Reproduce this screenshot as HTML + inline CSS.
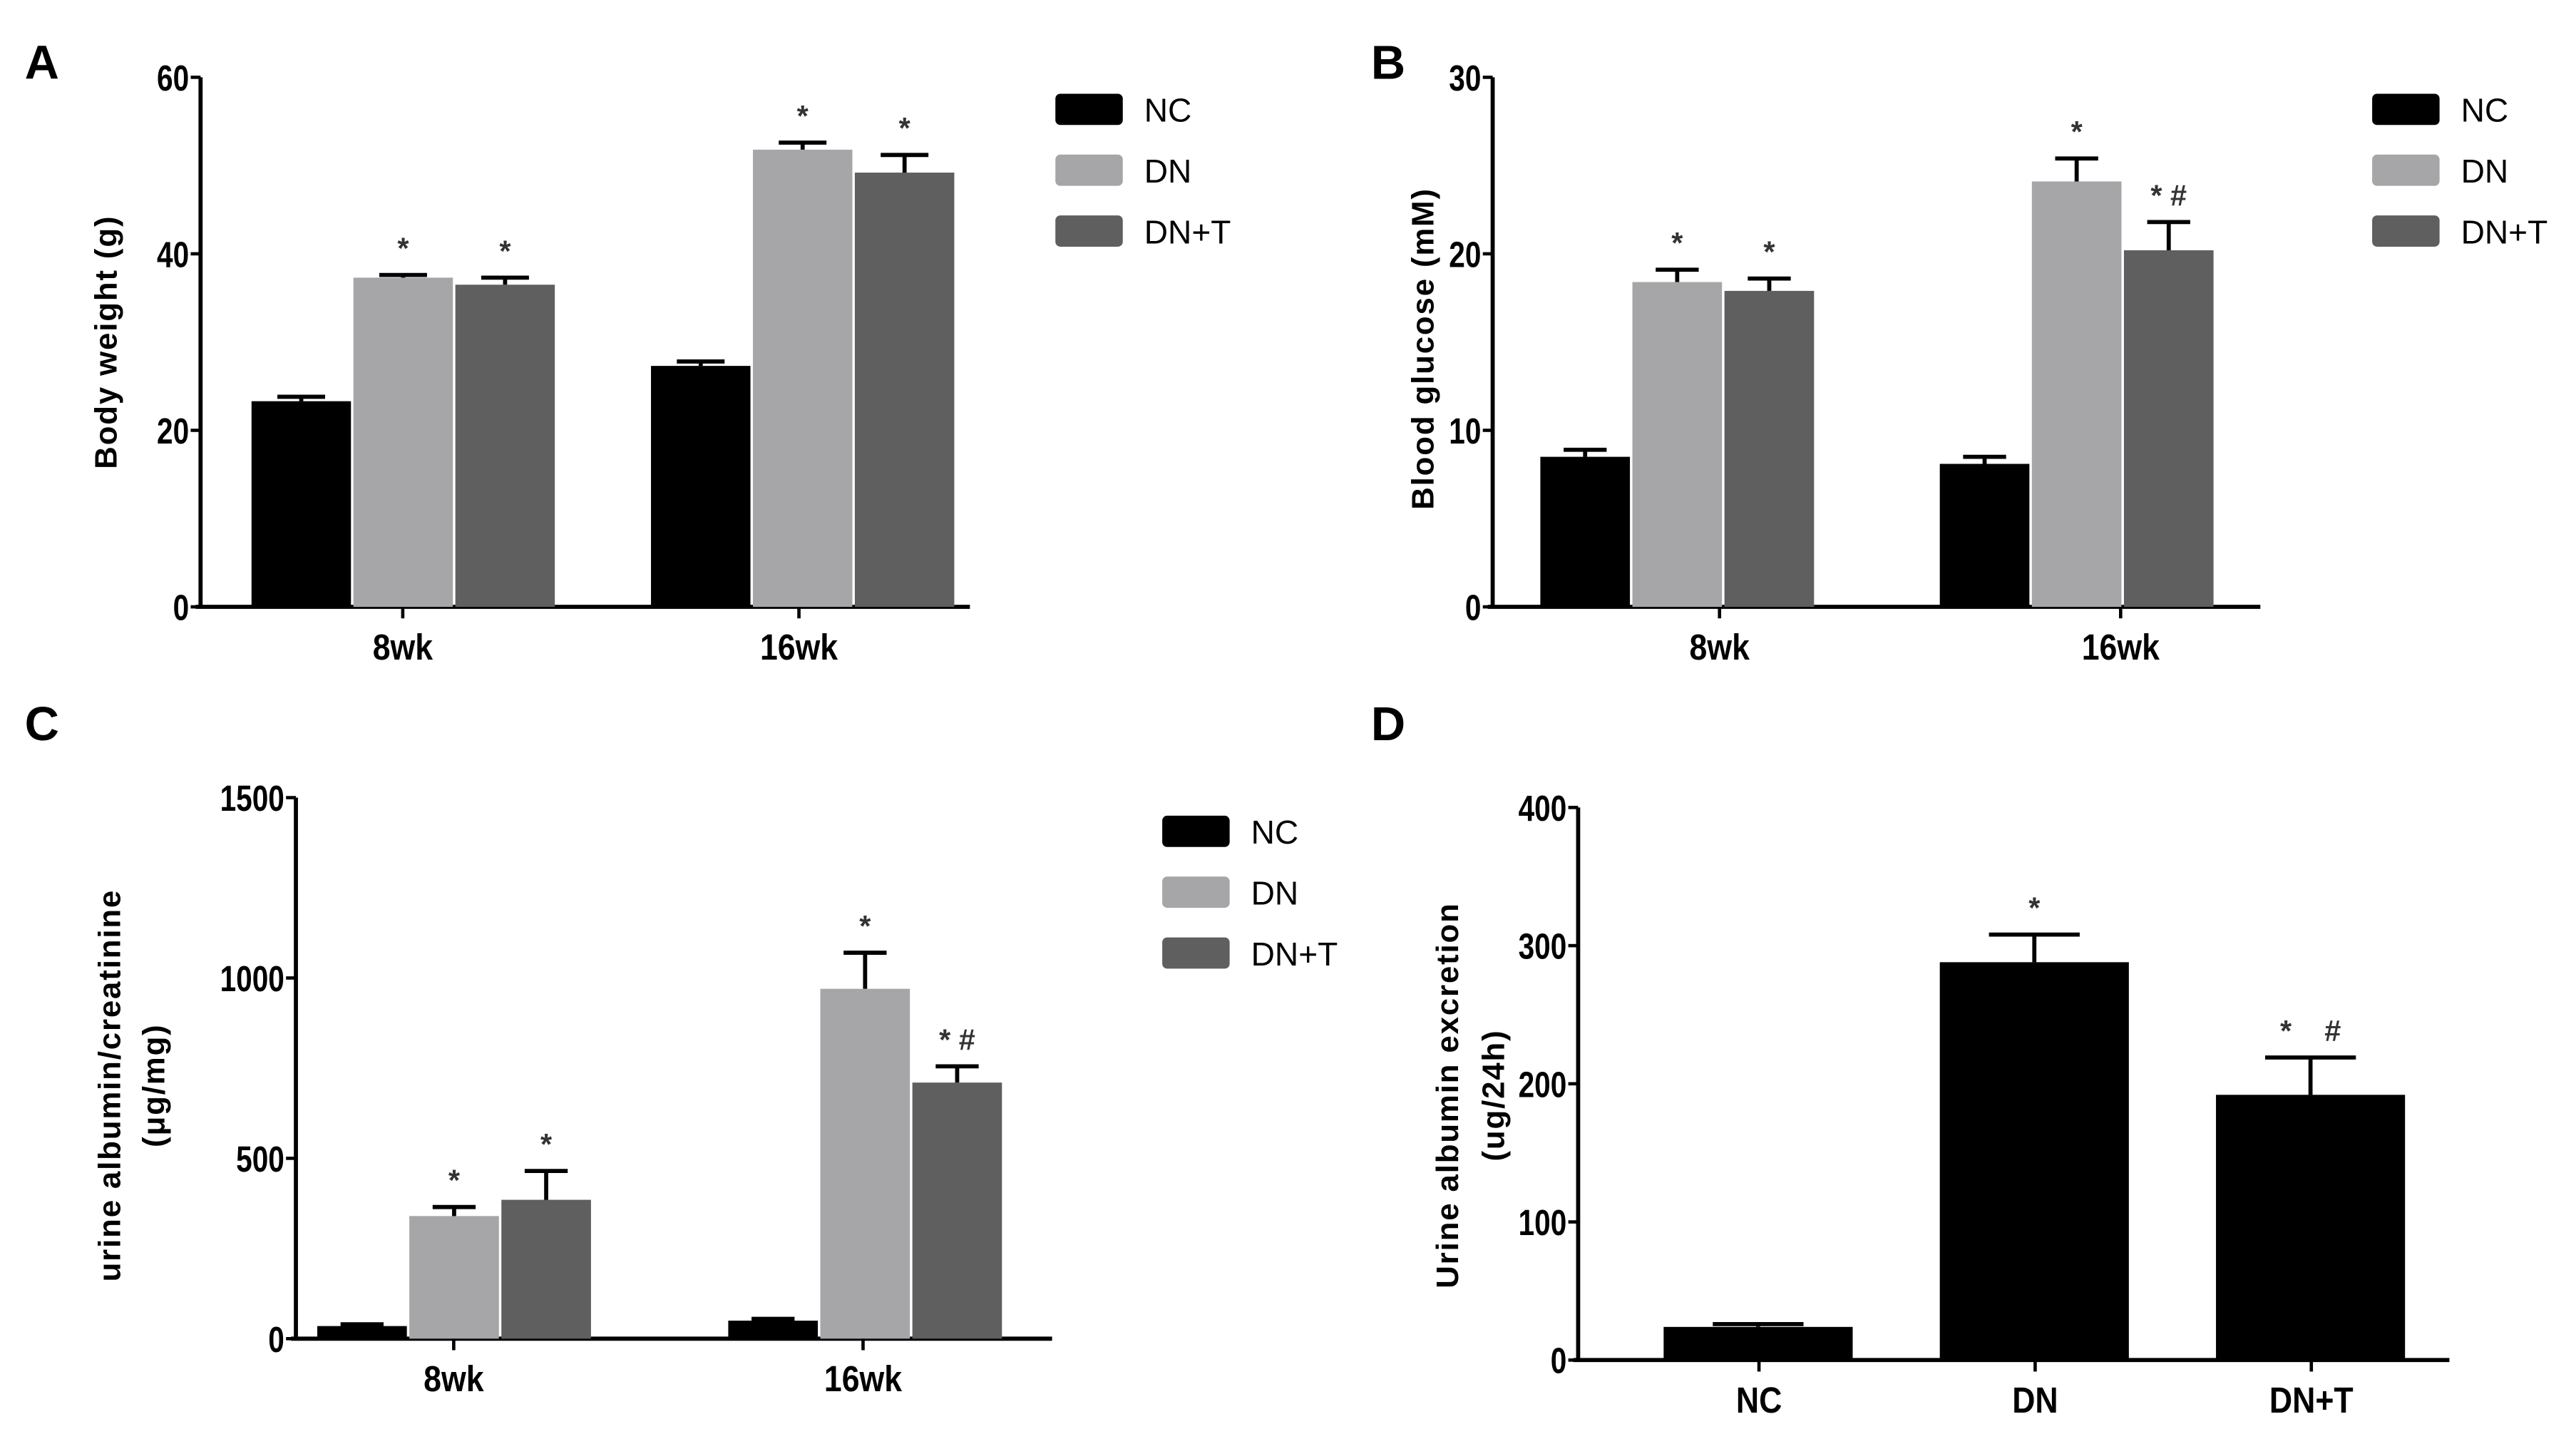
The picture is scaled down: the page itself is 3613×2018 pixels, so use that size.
<!DOCTYPE html>
<html><head><meta charset="utf-8"><style>
html,body{margin:0;padding:0;background:#fff;}
svg{display:block;}
text{font-family:"Liberation Sans",sans-serif;white-space:pre;}
</style></head><body>
<svg id="fig" width="3613" height="2018" viewBox="0 0 1567 875" preserveAspectRatio="none" xmlns="http://www.w3.org/2000/svg"></svg>
<script>
// Data
const groupsA = ["8wk","16wk"];
const seriesNames = ["NC","DN","DN+T"];
const weightMean = [[23.3,37.3,36.5],[27.3,51.8,49.2]];
const weightErr = [[0.5,0.3,0.8],[0.5,0.8,2.0]];
const weightMarks = [["","*","*"],["","*","*"]];
const weightTicks = [0,20,40,60];
const glucoseMean = [[8.5,18.4,17.9],[8.1,24.1,20.2]];
const glucoseErr = [[0.4,0.7,0.7],[0.4,1.3,1.6]];
const glucoseMarks = [["","*","*"],["","*","* #"]];
const glucoseTicks = [0,10,20,30];
const uacrMean = [[35,340,385],[50,970,710]];
const uacrErr = [[5,25,80],[5,100,45]];
const uacrMarks = [["","*","*"],["","*","* #"]];
const uacrTicks = [0,500,1000,1500];
const uaeCats = ["NC","DN","DN+T"];
const uaeMean = [24,288,192];
const uaeErr = [2,20,27];
const uaeMarks = ["","*","*    #"];
const uaeTicks = [0,100,200,300,400];

const NS="http://www.w3.org/2000/svg";
const svg=document.getElementById('fig');
const colors=["#000000","#a6a6a8","#5f5f5f"];
function el(tag,attrs,parent){const e=document.createElementNS(NS,tag);for(const k in attrs)e.setAttribute(k,attrs[k]);(parent||svg).appendChild(e);return e;}
function txt(s,attrs,parent){const t=el('text',attrs,parent);t.textContent=s;return t;}

function panel(cfg){
  const g=el('g',{});
  
  
  const ymax=cfg.ticks[cfg.ticks.length-1];
  const y=v=>cfg.y0-(v/ymax)*(cfg.y0-cfg.yTop);
  const ax=el('path',{d:`M${cfg.ax} ${cfg.yTop} V${cfg.y0+1} M${cfg.ax-3} ${cfg.y0} H${cfg.xEnd}`,stroke:'#000','stroke-width':2.5,fill:'none'},g);
  
  cfg.ticks.forEach(t=>{
    el('line',{x1:cfg.ax-6,x2:cfg.ax,y1:y(t),y2:y(t),stroke:'#000','stroke-width':2},g);
    const tl=txt(String(t),{x:cfg.ax-7,y:y(t)+8,'text-anchor':'end','font-size':22,'font-weight':'bold',transform:`translate(${cfg.ax-7} 0) scale(0.8 1) translate(${-(cfg.ax-7)} 0)`},g);
    
  });
  cfg.bars.forEach(b=>{
    const top=y(b.v);
    const r=el('rect',{x:b.x,y:top,width:b.w,height:cfg.y0-top,fill:b.c},g);
    
    const cx=b.x+b.w/2, et=y(b.v+b.e), hw=Math.min(b.w*0.24,30);
    el('path',{d:`M${cx} ${top} V${et} M${cx-hw} ${et} H${cx+hw}`,stroke:'#000','stroke-width':2.5,fill:'none'},g);
    if(b.m){const m=txt(b.m,{x:cx,y:et-10,'text-anchor':'middle','font-size':18,'font-weight':'bold',fill:'#333'},g);
      }
  });
  cfg.xlabels.forEach(l=>{
    el('line',{x1:l.x,x2:l.x,y1:cfg.y0,y2:cfg.y0+7,stroke:'#000','stroke-width':2},g);
    const t=txt(l.s,{x:l.x,y:cfg.y0+32,'text-anchor':'middle','font-size':22,'font-weight':'bold',transform:`translate(${l.x} 0) scale(0.88 1) translate(${-l.x} 0)`},g);
    
  });
  cfg.ytitle.forEach((s,i)=>{
    const t=txt(s,{x:0,y:0,'text-anchor':'middle','font-size':19,'font-weight':'bold','letter-spacing':'0.8',transform:`translate(${cfg.ytx[i]} ${cfg.ytc}) rotate(-90)`},g);
    
  });
  const L=txt(cfg.letter,{x:cfg.lx,y:cfg.ly,'font-size':29,'font-weight':'bold'},g);
  
  if(cfg.legend){
    seriesNames.forEach((s,i)=>{
      const yy=cfg.legend.y+i*37;
      const sw=el('rect',{x:cfg.legend.x,y:yy-9,width:41,height:19,rx:3,fill:colors[i]},g);
      
      const t=txt(s,{x:cfg.legend.x+54,y:yy+8,'font-size':20},g);
      
    });
  }
}
function groupedBars(means,errs,marks,starts,w){
  const out=[];
  means.forEach((grp,gi)=>grp.forEach((v,si)=>out.push({x:starts[gi]+si*(w+1.5),w:w,v:v,e:errs[gi][si],m:marks[gi][si],c:colors[si]})));
  return out;
}
panel({name:'panel-a-body-weight',letter:'A',lx:15,ly:48,ax:122,yTop:47,y0:369,xEnd:590,ticks:weightTicks,
  bars:groupedBars(weightMean,weightErr,weightMarks,[153,396],60.5),
  xlabels:[{x:245,s:groupsA[0]},{x:486,s:groupsA[1]}],ytitle:['Body weight (g)'],ytx:[71],ytc:208,legend:{x:642,y:66}});
panel({name:'panel-b-blood-glucose',letter:'B',lx:834,ly:48,ax:908,yTop:47,y0:369,xEnd:1375,ticks:glucoseTicks,
  bars:groupedBars(glucoseMean,glucoseErr,glucoseMarks,[937,1180],54.5),
  xlabels:[{x:1046,s:groupsA[0]},{x:1290,s:groupsA[1]}],ytitle:['Blood glucose (mM)'],ytx:[872],ytc:212,legend:{x:1443,y:66}});
panel({name:'panel-c-urine-albumin-creatinine',letter:'C',lx:15,ly:450,ax:180,yTop:485,y0:814,xEnd:640,ticks:uacrTicks,
  bars:groupedBars(uacrMean,uacrErr,uacrMarks,[193,443],54.5),
  xlabels:[{x:276,s:groupsA[0]},{x:525,s:groupsA[1]}],ytitle:['urine albumin/creatinine','(μg/mg)'],ytx:[73,100],ytc:660,legend:{x:707,y:505}});
panel({name:'panel-d-urine-albumin-excretion',letter:'D',lx:834,ly:450,ax:960,yTop:491,y0:827,xEnd:1490,ticks:uaeTicks,
  bars:uaeMean.map((v,i)=>({x:1012+i*168,w:115,v:v,e:uaeErr[i],m:uaeMarks[i],c:'#000'})),
  xlabels:uaeCats.map((s,i)=>({x:1070+i*168,s:s})),ytitle:['Urine albumin excretion','(ug/24h)'],ytx:[887,915],ytc:666});
</script>
</body></html>
